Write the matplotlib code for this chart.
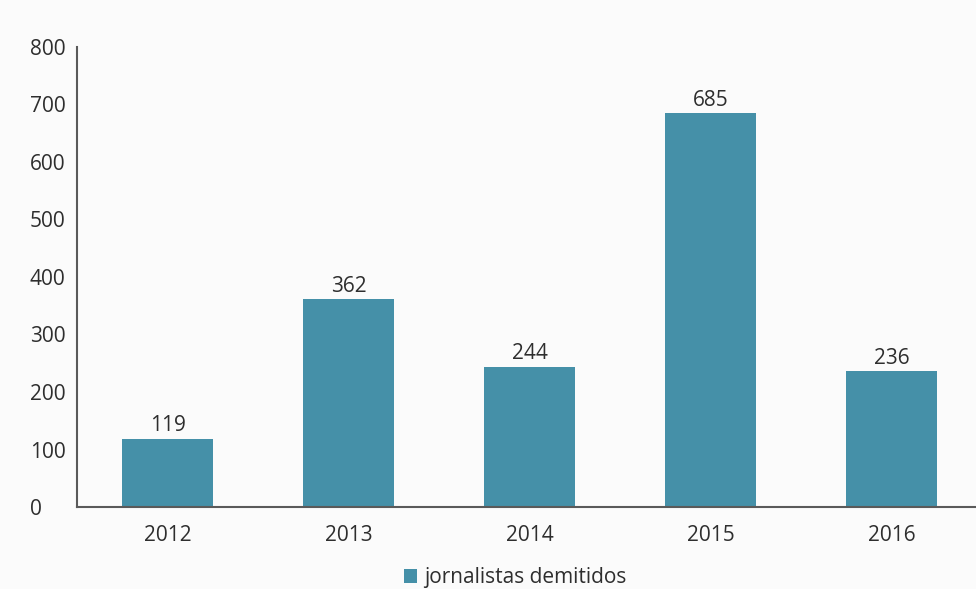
import matplotlib.pyplot as plt

years = ['2012', '2013', '2014', '2015', '2016']
demitidos = [119, 362, 244, 685, 236]

plt.rcParams['font.family'] = ['Open Sans', 'DejaVu Sans']

bar_color = '#4590a8'
axis_color = '#5a5a5a'
text_color = '#2e2e2e'
fs = 15

fig = plt.figure(figsize=(9.76, 5.89), dpi=100)
fig.patch.set_facecolor('#fbfbfb')
ax = fig.add_axes([77 / 976, 1 - 507 / 589, 899 / 976, 460 / 589])
ax.set_facecolor('#fbfbfb')

x = range(len(years))
bars = ax.bar(x, demitidos, width=0.5, color=bar_color, label='jornalistas demitidos')

for b, v in zip(bars, demitidos):
    ax.text(b.get_x() + b.get_width() / 2, v + 4, str(v), ha='center', va='bottom',
            fontsize=fs, color=text_color)

ax.set_xlim(-0.5, -0.5 + 899 / 181)
ax.set_ylim(0, 800)
ax.set_yticks(range(0, 801, 100))
ax.set_xticks(list(x))
ax.set_xticklabels(years)

ax.spines['top'].set_visible(False)
ax.spines['right'].set_visible(False)
ax.spines['left'].set_color(axis_color)
ax.spines['bottom'].set_color(axis_color)
ax.spines['left'].set_linewidth(1.5)
ax.spines['bottom'].set_linewidth(1.5)
ax.tick_params(length=0, labelsize=fs, colors=text_color)
ax.tick_params(axis='x', pad=13)
for lbl in ax.get_yticklabels():
    lbl.set_horizontalalignment('left')
ax.yaxis.set_tick_params(pad=34)

fig.legend(loc='center', bbox_to_anchor=(515 / 976, 1 - 578 / 589), frameon=False,
           fontsize=fs, handlelength=0.65, handleheight=0.65, handletextpad=0.3,
           labelcolor=text_color)

fig.savefig('out.png', dpi=100, facecolor=fig.get_facecolor())
